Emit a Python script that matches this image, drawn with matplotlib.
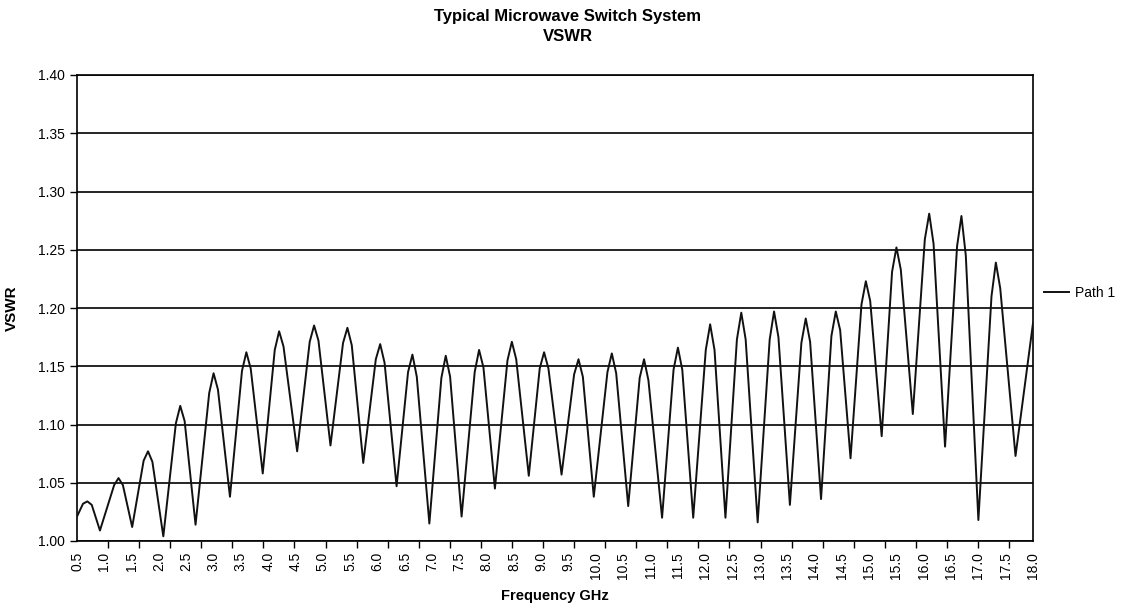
import numpy as np
import matplotlib
matplotlib.use("Agg")
import matplotlib.pyplot as plt
from matplotlib.ticker import FixedLocator

# peaks, troughs and a shoulder on each side of every peak
freq_ghz = [
    0.50, 0.61, 0.69, 0.77, 0.92,
    1.18, 1.26, 1.34, 1.51,
    1.72, 1.80, 1.88, 2.08,
    2.31, 2.39, 2.47, 2.67,
    2.92, 3.00, 3.08, 3.30,
    3.52, 3.60, 3.68, 3.90,
    4.12, 4.20, 4.28, 4.53,
    4.76, 4.84, 4.92, 5.14,
    5.37, 5.45, 5.53, 5.74,
    5.97, 6.05, 6.13, 6.35,
    6.56, 6.64, 6.72, 6.95,
    7.17, 7.25, 7.33, 7.54,
    7.78, 7.86, 7.94, 8.15,
    8.38, 8.46, 8.54, 8.77,
    8.97, 9.05, 9.13, 9.37,
    9.60, 9.68, 9.76, 9.96,
    10.21, 10.29, 10.37, 10.59,
    10.80, 10.88, 10.96, 11.21,
    11.42, 11.50, 11.58, 11.78,
    12.01, 12.09, 12.17, 12.37,
    12.58, 12.66, 12.74, 12.96,
    13.18, 13.26, 13.34, 13.55,
    13.76, 13.84, 13.92, 14.12,
    14.31, 14.39, 14.47, 14.66,
    14.86, 14.94, 15.02, 15.23,
    15.42, 15.50, 15.58, 15.80,
    16.02, 16.10, 16.18, 16.39,
    16.61, 16.69, 16.77, 17.00,
    17.24, 17.32, 17.40, 17.68,
    18.00,
]
vswr = [
    1.021, 1.032, 1.034, 1.031, 1.009,
    1.048, 1.054, 1.048, 1.012,
    1.069, 1.077, 1.068, 1.004,
    1.101, 1.116, 1.103, 1.014,
    1.127, 1.144, 1.130, 1.038,
    1.146, 1.162, 1.148, 1.058,
    1.164, 1.180, 1.167, 1.077,
    1.171, 1.185, 1.172, 1.082,
    1.170, 1.183, 1.168, 1.067,
    1.156, 1.169, 1.153, 1.047,
    1.145, 1.160, 1.141, 1.015,
    1.140, 1.159, 1.141, 1.021,
    1.145, 1.164, 1.149, 1.045,
    1.155, 1.171, 1.156, 1.056,
    1.148, 1.162, 1.148, 1.057,
    1.143, 1.156, 1.141, 1.038,
    1.145, 1.161, 1.144, 1.030,
    1.140, 1.156, 1.138, 1.020,
    1.147, 1.166, 1.147, 1.020,
    1.164, 1.186, 1.164, 1.020,
    1.173, 1.196, 1.173, 1.016,
    1.173, 1.197, 1.175, 1.031,
    1.170, 1.191, 1.171, 1.036,
    1.176, 1.197, 1.181, 1.071,
    1.203, 1.223, 1.206, 1.090,
    1.231, 1.252, 1.233, 1.109,
    1.259, 1.281, 1.255, 1.081,
    1.253, 1.279, 1.245, 1.018,
    1.210, 1.239, 1.217, 1.073,
    1.187,
]
series_name = "Path 1"
x_labels = [f"{v:.1f}" for v in np.arange(0.5, 18.01, 0.5)]

plt.rcParams['font.family'] = ['Liberation Sans', 'DejaVu Sans']

fig = plt.figure(figsize=(11.31, 6.08), dpi=100)
ax = fig.add_axes([77 / 1131, 67 / 608, 956 / 1131, 466 / 608])

ax.plot(freq_ghz, vswr, color='#111111', lw=1.4, label=series_name, zorder=3)

ax.set_xlim(0.5, 18.0)
ax.set_ylim(1.0, 1.4)

# labels sit on every 0.5 GHz, the tick marks run on their own spacing (Excel category axis)
ax.set_xticks(np.arange(0.5, 18.01, 0.5))
ax.set_xticklabels(x_labels, rotation=90, fontsize=10)
ax.tick_params(axis='x', which='major', length=0, pad=8)
ax.xaxis.set_minor_locator(FixedLocator(0.5 + 0.56875 * np.arange(31)))
ax.tick_params(axis='x', which='minor', length=5, width=1, direction='out', color='black')

ax.set_yticks(np.arange(1.0, 1.401, 0.05))
ax.set_yticklabels([f"{v:.2f}" for v in np.arange(1.0, 1.401, 0.05)], fontsize=10)
ax.tick_params(axis='y', length=5, width=1, direction='out', color='black')

ax.grid(axis='y', color='black', lw=1.2)
ax.set_axisbelow(True)
for s in ax.spines.values():
    s.set_color('black')
    s.set_linewidth(1.2)

ax.set_ylabel("VSWR", fontsize=11, fontweight='bold', labelpad=14)
ax.set_xlabel("Frequency GHz", fontsize=10.5, fontweight='bold', labelpad=7)

fig.text(568 / 1131, 1 - 9 / 608, "Typical Microwave Switch System\nVSWR",
         ha='center', va='top', fontsize=12, fontweight='bold', linespacing=1.45)

ax.legend(loc='center left', bbox_to_anchor=(1.012, 0.532), frameon=False,
          handlelength=1.8, handletextpad=0.4, borderpad=0, borderaxespad=0,
          fontsize=10)

fig.savefig("out.png", dpi=100, facecolor='white')
